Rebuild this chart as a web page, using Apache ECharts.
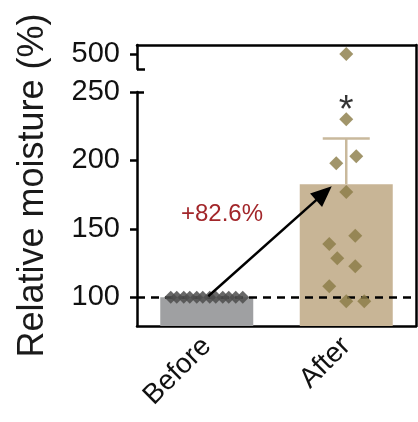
<!DOCTYPE html>
<html>
<head>
<meta charset="utf-8">
<script src="https://cdn.jsdelivr.net/npm/echarts@6/dist/echarts.min.js"></script>
<style>
html,body{margin:0;padding:0;background:#fff;}
#c{width:418px;height:422px;}
</style>
</head>
<body>
<div id="c"></div>
<script>
// ---- data ----
const categories = ['Before', 'After'];
const barMeans = [100, 182.6];
const afterErrorTop = 216;           // mean + SD of "After"
const beforeValues = [100, 100, 100, 100, 100, 100, 100, 100, 100, 100, 100, 100];
const afterValues = [500, 230, 203, 198, 177, 145, 139, 128.5, 122.7, 108, 97, 97];
const referenceLine = 100;
const lowerTicks = [100, 150, 200, 250];
const upperTicks = [500];
const sigMark = { text: '*', value: 236 };

// ---- presentation (pixel jitter of dots, not data) ----
const beforeJitter = [-36, -30, -23, -17, -10, -4, 3, 9, 16, 22, 29, 36];
const afterJitter = [0, 0, 10, -10, 0, 9, -17, -9, 9, -17, 0, 18];

const lowerRange = [79, 250];
const upperRange = [470, 518];

const FONT = 'Liberation Sans, Arial, Helvetica, sans-serif';
const AX = { color: '#000', width: 2.5 };

const changeText = '+' + ((barMeans[1] - barMeans[0]) / barMeans[0] * 100).toFixed(1) + '%';

const beforeData = beforeValues.map((v, i) => ({ value: [0, v], symbolOffset: [beforeJitter[i], 0] }));
const afterLower = [], afterUpper = [];
afterValues.forEach((v, i) => {
  const item = { value: [1, v], symbolOffset: [afterJitter[i], 0] };
  if (v > lowerRange[1]) afterUpper.push(item); else afterLower.push(item);
});

const chart = echarts.init(document.getElementById('c'), null, { renderer: 'canvas' });
chart.setOption({
  animation: false,
  backgroundColor: '#fff',
  textStyle: { fontFamily: FONT },
  grid: [
    { left: 137, right: 2, top: 92, bottom: 96 },   // lower segment
    { left: 137, right: 2, top: 45, height: 24 },   // upper segment
    { left: 137, right: 2, top: 45, bottom: 96 }    // frame
  ],
  xAxis: [
    { gridIndex: 0, type: 'category', data: categories,
      axisLine: { lineStyle: AX },
      axisTick: { alignWithLabel: true, length: 8, lineStyle: AX },
      axisLabel: { rotate: 45, fontSize: 28, color: '#111', margin: 16, fontFamily: FONT } },
    { gridIndex: 1, type: 'category', data: categories, show: false },
    { gridIndex: 2, type: 'value', position: 'top', min: 0, max: 1,
      axisLine: { show: true, onZero: false, lineStyle: AX },
      axisTick: { show: false }, axisLabel: { show: false }, splitLine: { show: false } }
  ],
  yAxis: [
    { gridIndex: 0, type: 'value', position: 'left', min: lowerRange[0], max: lowerRange[1],
      axisLine: { show: true, onZero: false, lineStyle: AX },
      axisTick: { show: true, length: 7, lineStyle: AX, customValues: lowerTicks },
      axisLabel: { fontSize: 29, color: '#111', margin: 17, customValues: lowerTicks, fontFamily: FONT },
      splitLine: { show: false } },
    { gridIndex: 1, type: 'value', position: 'left', min: upperRange[0], max: upperRange[1],
      axisLine: { show: true, onZero: false, lineStyle: AX },
      axisTick: { show: true, length: 7, lineStyle: AX, customValues: upperTicks },
      axisLabel: { fontSize: 29, color: '#111', margin: 17, customValues: upperTicks, fontFamily: FONT },
      splitLine: { show: false } },
    { gridIndex: 2, type: 'value', position: 'right', min: 0, max: 1,
      axisLine: { show: true, onZero: false, lineStyle: AX },
      axisTick: { show: false }, axisLabel: { show: false }, splitLine: { show: false } },
    { gridIndex: 2, type: 'value', position: 'left', min: 0, max: 1,
      name: 'Relative moisture (%)', nameLocation: 'middle', nameGap: 86,
      nameTextStyle: { fontSize: 36, color: '#1a1a1a', fontFamily: FONT },
      axisLine: { show: false }, axisTick: { show: false }, axisLabel: { show: false }, splitLine: { show: false } },
    // break stubs
    { gridIndex: 0, type: 'value', position: 'left', min: lowerRange[0], max: lowerRange[1],
      axisLine: { show: false }, axisLabel: { show: false }, splitLine: { show: false },
      axisTick: { show: true, inside: true, length: 7, lineStyle: AX, customValues: [lowerRange[1]] } },
    { gridIndex: 1, type: 'value', position: 'left', min: upperRange[0], max: upperRange[1],
      axisLine: { show: false }, axisLabel: { show: false }, splitLine: { show: false },
      axisTick: { show: true, inside: true, length: 8, lineStyle: AX, customValues: [upperRange[0]] } }
  ],
  series: [
    { type: 'bar', xAxisIndex: 0, yAxisIndex: 0, barWidth: 93, clip: true,
      data: barMeans.map((v, i) => ({ value: v, itemStyle: { color: i === 0 ? '#9fa0a2' : '#c8b596' } })),
      markLine: { silent: true, symbol: 'none', label: { show: false },
        lineStyle: { color: '#000', type: [8, 6], width: 2.5 },
        data: [{ yAxis: referenceLine }] }, z: 2 },
    { type: 'custom', xAxisIndex: 0, yAxisIndex: 0, z: 3,
      data: [[1, barMeans[1], afterErrorTop]],
      renderItem: function (params, api) {
        const b = api.coord([api.value(0), api.value(1)]);
        const t = api.coord([api.value(0), api.value(2)]);
        const st = { stroke: '#c9b99c', lineWidth: 2.5 };
        return { type: 'group', children: [
          { type: 'line', shape: { x1: t[0], y1: t[1], x2: b[0], y2: b[1] }, style: st },
          { type: 'line', shape: { x1: t[0] - 23.5, y1: t[1], x2: t[0] + 23.5, y2: t[1] }, style: st }
        ] };
      } },
    { type: 'scatter', xAxisIndex: 0, yAxisIndex: 0, symbol: 'diamond', symbolSize: 13, z: 5,
      itemStyle: { color: '#4d4d4d', opacity: 0.85 }, data: beforeData },
    { type: 'scatter', xAxisIndex: 0, yAxisIndex: 0, symbol: 'diamond', symbolSize: 14, z: 5,
      itemStyle: { color: '#8a7b45' }, data: afterLower },
    { type: 'scatter', xAxisIndex: 1, yAxisIndex: 1, symbol: 'diamond', symbolSize: 14, z: 5,
      itemStyle: { color: '#8a7b45' }, data: afterUpper },
    { type: 'scatter', xAxisIndex: 0, yAxisIndex: 0, symbolSize: 0, z: 6,
      data: [[1, sigMark.value]],
      label: { show: true, position: 'inside', formatter: sigMark.text, fontSize: 38, color: '#000', fontFamily: FONT } },
    { type: 'custom', xAxisIndex: 0, yAxisIndex: 0, z: 7,
      encode: { x: [0, 2], y: [1, 3] },
      data: [[0, barMeans[0], 1, barMeans[1]]],
      renderItem: function (params, api) {
        const p0 = api.coord([api.value(0), api.value(1)]);
        const p1 = api.coord([api.value(2), api.value(3)]);
        p0[0] += 1.5; p0[1] -= 1;
        p1[0] -= 14.5; p1[1] += 2;
        const dx = p1[0] - p0[0], dy = p1[1] - p0[1];
        const L = Math.sqrt(dx * dx + dy * dy);
        const ux = dx / L, uy = dy / L;
        const hl = 21, hw = 9;
        const bx = p1[0] - ux * hl, by = p1[1] - uy * hl;
        const nx = -uy, ny = ux;
        return { type: 'group', children: [
          { type: 'line', shape: { x1: p0[0], y1: p0[1], x2: bx + ux * 2, y2: by + uy * 2 },
            style: { stroke: '#000', lineWidth: 2.5 } },
          { type: 'polygon', shape: { points: [[p1[0], p1[1]], [bx + nx * hw, by + ny * hw], [bx - nx * hw, by - ny * hw]] },
            style: { fill: '#000' } },
          { type: 'text', x: (p0[0] + p1[0]) / 2 - 48, y: (p0[1] + p1[1]) / 2 - 27,
            style: { text: changeText, fill: '#a2262a', fontSize: 24, fontFamily: FONT, align: 'center', verticalAlign: 'middle' } }
        ] };
      } }
  ]
});
</script>
</body>
</html>
